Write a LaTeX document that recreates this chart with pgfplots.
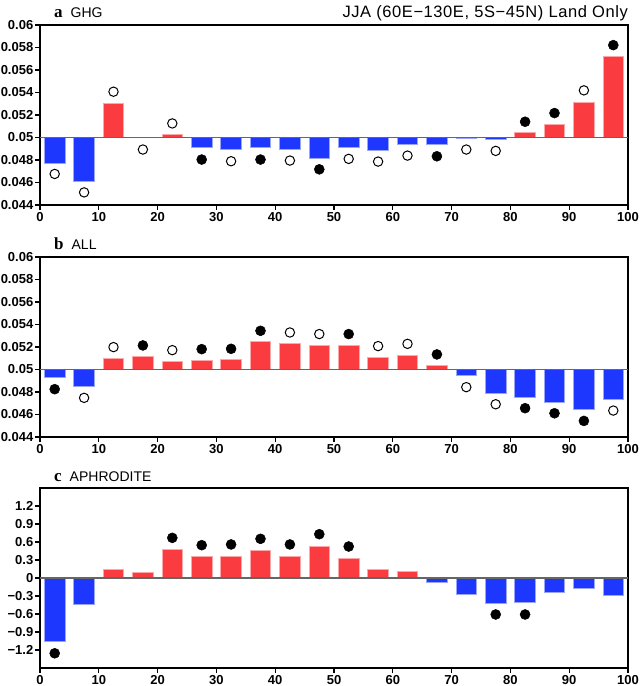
\documentclass[border=0pt]{standalone}
\usepackage{pgfplots}
\pgfplotsset{compat=1.18}
\usepackage{fontspec}
\setmainfont{Liberation Sans}
\newfontfamily\serifb{Liberation Serif}
\definecolor{barblue}{RGB}{30,55,255}
\definecolor{barred}{RGB}{250,60,65}
\pgfplotsset{
  panel/.style={
    scale only axis, width=588pt, height=180pt,
    anchor=south west,
    xmin=0, xmax=100, xtick={0,10,...,100},
    tick pos=left, tick align=outside,
    major tick length=5pt,
    axis line style={line width=1.4pt},
    every tick/.style={black, line width=1.2pt},
    tick label style={font=\fontsize{13}{13}\selectfont\bfseries},
    /pgf/number format/assume math mode=true,
    xticklabel style={inner sep=1pt, yshift=-1pt},
    yticklabel style={inner sep=1.5pt},
    scaled y ticks=false,
    clip=false,
  },
  shifted/.style={
    y coord trafo/.code={\pgfmathparse{##1-0.05}},
    y coord inv trafo/.code={\pgfmathparse{##1+0.05}},
    ymin=0.044, ymax=0.06,
    ytick={0.044,0.046,0.048,0.05,0.052,0.054,0.056,0.058,0.06},
    yticklabels={0.044,0.046,0.048,0.05,0.052,0.054,0.056,0.058,0.06},
  },
  bluebar/.style={ybar, bar width=3.5, bar shift=0pt, fill=barblue, draw=barblue!45!white, line width=0.7pt},
  redbar/.style={ybar, bar width=3.5, bar shift=0pt, fill=barred, draw=barred!45!white, line width=0.7pt},
  fdot/.style={only marks, mark=*, mark size=5pt, mark options={fill=black, draw=black, line width=0.5pt}},
  odot/.style={only marks, mark=*, mark size=4.7pt, mark options={fill=white, draw=black, line width=1pt}},
  base/.style={black!60, line width=1.3pt, no marks},
}
\newcommand{\ptitle}[2]{\node[anchor=base west, inner sep=0] at (rel axis cs:0,1) [xshift=14pt, yshift=7pt] {{\serifb\bfseries\fontsize{17}{17}\selectfont #1}\hspace{8pt}{\fontsize{14}{14}\selectfont #2}};}
\begin{document}
\begin{tikzpicture}
\useasboundingbox (0,0) rectangle (640pt,686pt);
% ---------------- panel a ----------------
\begin{axis}[panel, shifted, at={(40pt,481pt)}]
\addplot[bluebar] coordinates {(2.5,0.04774) (7.5,0.04613) (27.5,0.04908) (32.5,0.04893) (37.5,0.04908) (42.5,0.04893) (47.5,0.04819) (52.5,0.04911) (57.5,0.04887) (62.5,0.04938) (67.5,0.04935) (72.5,0.04996) (77.5,0.04982)};
\addplot[redbar] coordinates {(12.5,0.05303) (22.5,0.05024) (82.5,0.05042) (87.5,0.05116) (92.5,0.05315) (97.5,0.05717)};
\addplot[base] coordinates {(0,0.05) (100,0.05)};
\addplot[odot] coordinates {(2.5,0.04676) (7.5,0.04512) (12.5,0.05407) (17.5,0.04893) (22.5,0.05125) (32.5,0.04789) (42.5,0.04795) (52.5,0.04810) (57.5,0.04786) (62.5,0.04839) (72.5,0.04893) (77.5,0.04881) (92.5,0.05419)};
\addplot[fdot] coordinates {(27.5,0.04804) (37.5,0.04804) (47.5,0.04717) (67.5,0.04833) (82.5,0.05140) (87.5,0.05217) (97.5,0.05821)};
\ptitle{a}{GHG}
\node[anchor=base east, inner sep=0] at (rel axis cs:1,1) [yshift=7pt] {\fontsize{16.5}{16.5}\selectfont\addfontfeature{LetterSpace=3.5}JJA (60E−130E, 5S−45N) Land Only};
\end{axis}
% ---------------- panel b ----------------
\begin{axis}[panel, shifted, at={(40pt,249pt)}]
\addplot[bluebar] coordinates {(2.5,0.04926) (7.5,0.04849) (72.5,0.04944) (77.5,0.04792) (82.5,0.04754) (87.5,0.04712) (92.5,0.04647) (97.5,0.04733)};
\addplot[redbar] coordinates {(12.5,0.05098) (17.5,0.05113) (22.5,0.05074) (27.5,0.05083) (32.5,0.05086) (37.5,0.05249) (42.5,0.05231) (47.5,0.05217) (52.5,0.05214) (57.5,0.05107) (62.5,0.05125) (67.5,0.05033)};
\addplot[base] coordinates {(0,0.05) (100,0.05)};
\addplot[odot] coordinates {(7.5,0.04748) (12.5,0.05199) (22.5,0.05172) (42.5,0.05329) (47.5,0.05315) (57.5,0.05208) (62.5,0.05228) (72.5,0.04843) (77.5,0.04691) (97.5,0.04635)};
\addplot[fdot] coordinates {(2.5,0.04825) (17.5,0.05214) (27.5,0.05181) (32.5,0.05184) (37.5,0.05344) (52.5,0.05315) (67.5,0.05134) (82.5,0.04656) (87.5,0.04611) (92.5,0.04543)};
\ptitle{b}{ALL}
\end{axis}
% ---------------- panel c ----------------
\begin{axis}[panel, at={(40pt,18pt)}, ymin=-1.5, ymax=1.5,
  ytick={-1.2,-0.9,-0.6,-0.3,0,0.3,0.6,0.9,1.2},
  yticklabels={−1.2,−0.9,−0.6,−0.3,0,0.3,0.6,0.9,1.2}]
\addplot[bluebar] coordinates {(2.5,-1.051) (7.5,-0.442) (67.5,-0.072) (72.5,-0.265) (77.5,-0.415) (82.5,-0.409) (87.5,-0.232) (92.5,-0.166) (97.5,-0.293)};
\addplot[redbar] coordinates {(12.5,0.144) (17.5,0.094) (22.5,0.481) (27.5,0.354) (32.5,0.365) (37.5,0.459) (42.5,0.359) (47.5,0.525) (52.5,0.332) (57.5,0.149) (62.5,0.111)};
\addplot[base] coordinates {(0,0) (100,0)};
\addplot[fdot] coordinates {(2.5,-1.255) (22.5,0.669) (27.5,0.547) (32.5,0.559) (37.5,0.653) (42.5,0.559) (47.5,0.730) (52.5,0.525) (77.5,-0.608) (82.5,-0.608)};
\ptitle{c}{APHRODITE}
\end{axis}
\end{tikzpicture}
\end{document}
